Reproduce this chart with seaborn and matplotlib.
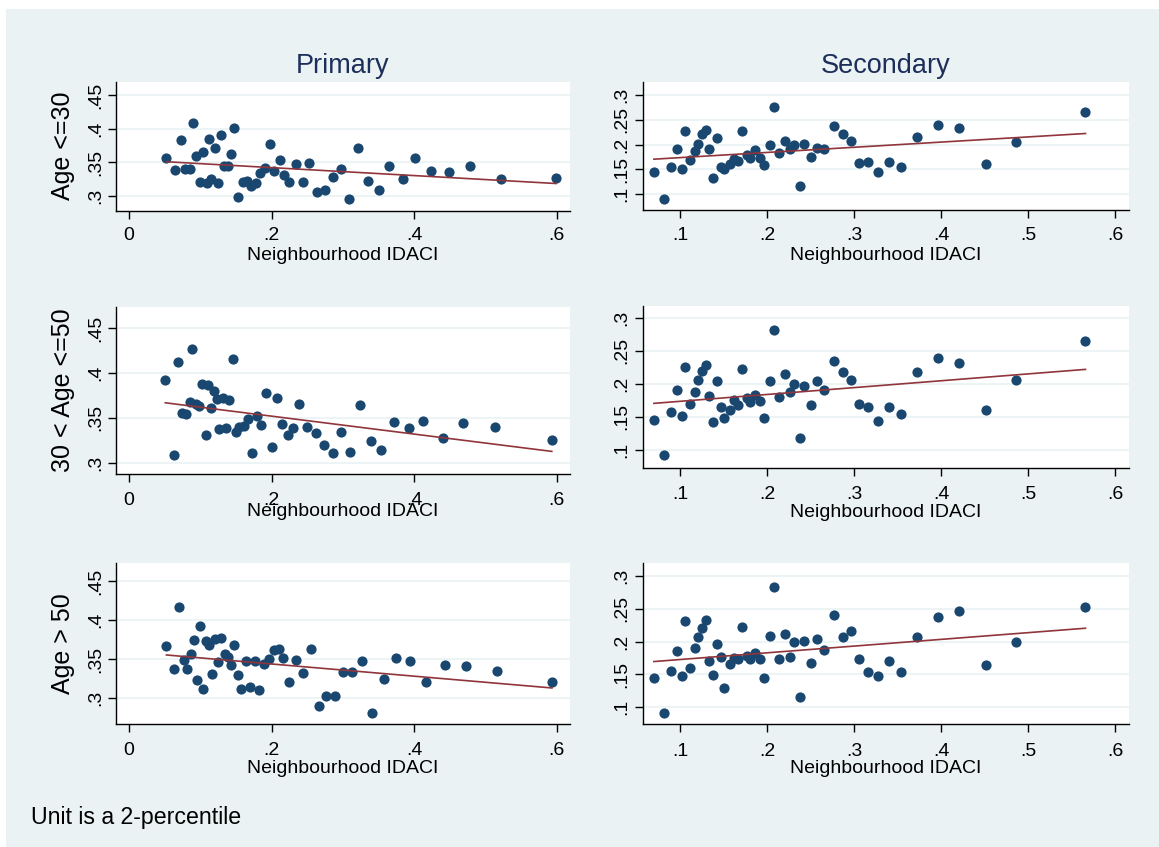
import matplotlib
matplotlib.use("Agg")
import matplotlib.pyplot as plt
from matplotlib.patches import Rectangle
import seaborn as sns

# ---------------- data ----------------
row_labels = ["Age <=30", "30 < Age <=50", "Age > 50"]
col_titles = ["Primary", "Secondary"]
x_title = "Neighbourhood IDACI"
note_text = "Unit is a 2-percentile"

pri_ticks = [0, 0.2, 0.4, 0.6]
pri_tick_labels = ["0", ".2", ".4", ".6"]
pri_yticks = [0.30, 0.35, 0.40, 0.45]
pri_ytick_labels = [".3", ".35", ".4", ".45"]
sec_ticks = [0.1, 0.2, 0.3, 0.4, 0.5, 0.6]
sec_tick_labels = [".1", ".2", ".3", ".4", ".5", ".6"]
sec_yticks = [0.10, 0.15, 0.20, 0.25, 0.30]
sec_ytick_labels = [".1", ".15", ".2", ".25", ".3"]

pri_x_age30 = [0.0525, 0.0646, 0.0724, 0.0782, 0.085, 0.0894, 0.0943, 0.0996, 0.1035, 0.1088,
               0.1117, 0.1156, 0.1205, 0.1249, 0.1287, 0.1336, 0.139, 0.1428, 0.1477, 0.1535,
               0.1594, 0.1657, 0.171, 0.1783, 0.1832, 0.191, 0.1973, 0.204, 0.2113, 0.2181,
               0.225, 0.2337, 0.2434, 0.2531, 0.2638, 0.275, 0.2862, 0.2978, 0.3085, 0.3211,
               0.3357, 0.3503, 0.3649, 0.3843, 0.4018, 0.4232, 0.4484, 0.4776, 0.5213, 0.599]
pri_y_age30 = [0.356, 0.339, 0.383, 0.3406, 0.3406, 0.409, 0.360, 0.321, 0.366, 0.320,
               0.384, 0.326, 0.372, 0.320, 0.390, 0.345, 0.345, 0.363, 0.4005, 0.2985,
               0.321, 0.322, 0.315, 0.3198, 0.3347, 0.341, 0.377, 0.3366, 0.354, 0.3307,
               0.321, 0.347, 0.321, 0.3495, 0.3054, 0.309, 0.328, 0.3406, 0.2955, 0.372,
               0.322, 0.309, 0.344, 0.3248, 0.3564, 0.3376, 0.3361, 0.345, 0.3248, 0.327]

pri_x_age50 = [0.051, 0.0632, 0.069, 0.0743, 0.0802, 0.085, 0.0889, 0.0938, 0.0986, 0.1025,
               0.1074, 0.1113, 0.1147, 0.1195, 0.1229, 0.1268, 0.1322, 0.1361, 0.1404, 0.1458,
               0.1501, 0.1545, 0.1608, 0.1666, 0.1725, 0.1793, 0.1856, 0.1924, 0.2011, 0.2075,
               0.2143, 0.223, 0.2303, 0.239, 0.2497, 0.2619, 0.2735, 0.2857, 0.2968, 0.31,
               0.3245, 0.3391, 0.3537, 0.3717, 0.3926, 0.4125, 0.4397, 0.4688, 0.513, 0.593]
pri_y_age50 = [0.3923, 0.3086, 0.412, 0.3555, 0.3547, 0.3674, 0.4266, 0.3655, 0.3633, 0.3879,
               0.3305, 0.3871, 0.3614, 0.380, 0.3715, 0.3372, 0.3726, 0.3383, 0.370, 0.4161,
               0.3342, 0.3395, 0.3413, 0.3484, 0.3112, 0.3521, 0.3421, 0.3782, 0.3179, 0.3726,
               0.3432, 0.3313, 0.3387, 0.3655, 0.3395, 0.3335, 0.3197, 0.3112, 0.3339, 0.3115,
               0.364, 0.3246, 0.3141, 0.3458, 0.3383, 0.3469, 0.3279, 0.3443, 0.3398, 0.3253]

pri_x_age51 = [0.0525, 0.0636, 0.0704, 0.0772, 0.0811, 0.087, 0.0913, 0.0952, 0.0996, 0.1045,
               0.1079, 0.1122, 0.1166, 0.121, 0.1249, 0.1297, 0.1341, 0.1394, 0.1428, 0.1467,
               0.153, 0.1574, 0.1642, 0.170, 0.1764, 0.1822, 0.1895, 0.1963, 0.2031, 0.2104,
               0.2167, 0.225, 0.2337, 0.2434, 0.2551, 0.2667, 0.2764, 0.2891, 0.2998, 0.3134,
               0.327, 0.3406, 0.3571, 0.3746, 0.394, 0.4164, 0.4426, 0.4727, 0.5155, 0.5932]
pri_y_age51 = [0.3674, 0.3379, 0.4164, 0.349, 0.3379, 0.3563, 0.3742, 0.3234, 0.3925, 0.3115,
               0.3738, 0.3678, 0.3307, 0.3755, 0.3469, 0.3776, 0.3563, 0.3529, 0.3422, 0.3682,
               0.3298, 0.3119, 0.3477, 0.3149, 0.3477, 0.3107, 0.3435, 0.3499, 0.3618, 0.3635,
               0.3512, 0.3205, 0.349, 0.332, 0.3627, 0.2902, 0.3034, 0.3034, 0.3337, 0.3337,
               0.3482, 0.2817, 0.3247, 0.3512, 0.3473, 0.3213, 0.3426, 0.3418, 0.335, 0.3205]

sec_x = [0.070, 0.082, 0.090, 0.096, 0.102, 0.106, 0.112, 0.117, 0.121, 0.125,
         0.130, 0.133, 0.138, 0.143, 0.147, 0.151, 0.157, 0.162, 0.167, 0.171,
         0.177, 0.181, 0.186, 0.192, 0.197, 0.203, 0.2075, 0.214, 0.221, 0.226,
         0.231, 0.238, 0.243, 0.250, 0.257, 0.266, 0.277, 0.287, 0.297, 0.306,
         0.316, 0.327, 0.340, 0.3545, 0.372, 0.396, 0.421, 0.4515, 0.4865, 0.566]
sec_y_age30 = [0.145, 0.091, 0.156, 0.191, 0.151, 0.227, 0.170, 0.188, 0.202, 0.222,
               0.230, 0.192, 0.132, 0.214, 0.155, 0.151, 0.162, 0.172, 0.168, 0.227,
               0.180, 0.173, 0.190, 0.173, 0.160, 0.200, 0.276, 0.183, 0.208, 0.192,
               0.199, 0.117, 0.201, 0.176, 0.194, 0.192, 0.238, 0.221, 0.207, 0.163,
               0.166, 0.145, 0.166, 0.154, 0.216, 0.239, 0.233, 0.162, 0.206, 0.265]
sec_y_age50 = [0.145, 0.0924, 0.1577, 0.1906, 0.1521, 0.226, 0.1698, 0.187, 0.2063, 0.220,
               0.2285, 0.1815, 0.1425, 0.2037, 0.1648, 0.1491, 0.1612, 0.1754, 0.1688, 0.2225,
               0.1794, 0.1729, 0.183, 0.1744, 0.1486, 0.2042, 0.2822, 0.180, 0.2154, 0.188,
               0.1992, 0.1177, 0.1972, 0.1688, 0.2042, 0.1906, 0.2341, 0.2179, 0.2052, 0.1703,
               0.1653, 0.144, 0.1653, 0.1541, 0.2174, 0.2387, 0.2316, 0.1607, 0.2052, 0.2655]
sec_y_age51 = [0.1449, 0.0908, 0.1556, 0.1857, 0.1474, 0.2306, 0.1592, 0.1903, 0.2061, 0.2199,
               0.2327, 0.1704, 0.1495, 0.1969, 0.1765, 0.1291, 0.1663, 0.1745, 0.173, 0.2214,
               0.1776, 0.174, 0.1821, 0.174, 0.1439, 0.2082, 0.2821, 0.173, 0.2107, 0.1765,
               0.1985, 0.1163, 0.2005, 0.1673, 0.2041, 0.1878, 0.2408, 0.2066, 0.2158, 0.173,
               0.1536, 0.1474, 0.1699, 0.1536, 0.2066, 0.2378, 0.2469, 0.1638, 0.1985, 0.2526]

# ---------------- style ----------------
BG = "#EAF2F3"
NAVY = "#1A476F"
MAROON = "#90353B"
TITLE_C = "#1C2E5A"
plt.rcParams["font.family"] = ["Liberation Sans", "DejaVu Sans"]

W, H = 1159, 847
fig = plt.figure(figsize=(W / 100, H / 100), dpi=100, facecolor="white")
fig.add_artist(Rectangle((6 / W, 0), 1, 1 - 9 / H, transform=fig.transFigure,
                         facecolor=BG, edgecolor="none", zorder=-10))

# layout in pixels: (left, top, right, bottom), y limits, tick pad, xlabel baseline
panels = [
    dict(box=(116, 81.7, 570, 210.7), ylim=(0.2782, 0.4698), xpad=6.0, base=259.5,
         x=pri_x_age30, y=pri_y_age30, kind="pri", row=0),
    dict(box=(642.5, 81.7, 1129, 210), ylim=(0.0684, 0.3268), xpad=6.4, base=259.5,
         x=sec_x, y=sec_y_age30, kind="sec", row=0),
    dict(box=(116, 306.7, 570, 474), ylim=(0.2874, 0.4741), xpad=7.0, base=516,
         x=pri_x_age50, y=pri_y_age50, kind="pri", row=1),
    dict(box=(642.5, 306, 1129, 467.7), ylim=(0.0731, 0.3180), xpad=7.6, base=517,
         x=sec_x, y=sec_y_age50, kind="sec", row=1),
    dict(box=(116, 563.3, 570, 724), ylim=(0.2671, 0.4726), xpad=7.0, base=772.7,
         x=pri_x_age51, y=pri_y_age51, kind="pri", row=2),
    dict(box=(642.5, 563, 1129, 724.3), ylim=(0.0742, 0.3193), xpad=7.6, base=772.5,
         x=sec_x, y=sec_y_age51, kind="sec", row=2),
]

TICK_FS = 14.0
for p in panels:
    l, t, r, b = p["box"]
    ax = fig.add_axes([l / W, 1 - b / H, (r - l) / W, (b - t) / H])
    ax.set_facecolor("white")
    sns.regplot(x=p["x"], y=p["y"], ax=ax, ci=None, truncate=True,
                scatter_kws=dict(s=54, color=NAVY, linewidths=0, alpha=1, zorder=3),
                line_kws=dict(color=MAROON, lw=1.2, zorder=4))
    if p["kind"] == "pri":
        ax.set_xlim(-0.0182, 0.6185)
        ax.set_xticks(pri_ticks, pri_tick_labels)
        ax.set_yticks(pri_yticks, pri_ytick_labels, rotation=90, va="center")
    else:
        ax.set_xlim(0.0569, 0.616)
        ax.set_xticks(sec_ticks, sec_tick_labels)
        ax.set_yticks(sec_yticks, sec_ytick_labels, rotation=90, va="center")
    ax.set_ylim(*p["ylim"])
    for side in ("top", "right"):
        ax.spines[side].set_visible(False)
    for side in ("left", "bottom"):
        ax.spines[side].set_color("black")
        ax.spines[side].set_linewidth(1.0)
    ax.tick_params(direction="out", length=5.8, width=1.0, color="black",
                   labelsize=TICK_FS, labelcolor="black")
    ax.tick_params(axis="x", pad=p["xpad"])
    ax.tick_params(axis="y", pad=3.0)
    ax.yaxis.grid(True, color=BG, linewidth=1.2)
    ax.xaxis.grid(False)
    ax.set_axisbelow(True)

    ax.set_xlabel(x_title, fontsize=TICK_FS, va="baseline")
    ax.xaxis.set_label_coords(0.5, (b - p["base"]) / (b - t))
    if p["kind"] == "pri":
        ax.set_ylabel(row_labels[p["row"]], fontsize=18, rotation=90,
                      rotation_mode="anchor", ha="center", va="baseline")
        ax.yaxis.set_label_coords((70 - l) / (r - l), 0.5)
    else:
        ax.set_ylabel("")
    if p["row"] == 0:
        ax.set_title(col_titles[0] if p["kind"] == "pri" else col_titles[1],
                     fontsize=19.5, color=TITLE_C, pad=6.5)

fig.text(31 / W, 1 - 824 / H, note_text, fontsize=16.7, ha="left", va="baseline")

fig.savefig("out.png", dpi=100, facecolor=fig.get_facecolor())
